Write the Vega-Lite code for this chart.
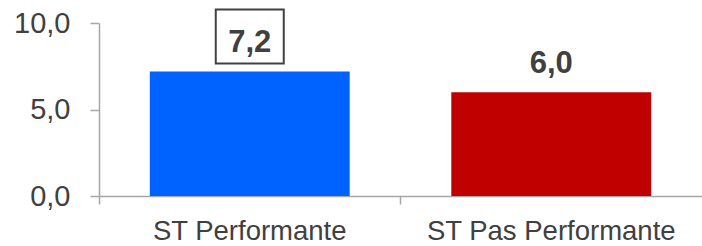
{
  "$schema": "https://vega.github.io/schema/vega-lite/v6.json",
  "width": 603,
  "height": 173,
  "autosize": {"type": "none"},
  "padding": {"left": 99, "top": 23, "right": 0, "bottom": 50},
  "background": "white",
  "config": {
    "view": {"stroke": null},
    "font": "Liberation Sans",
    "locale": {"number": {"decimal": ",", "thousands": ".", "grouping": [3], "currency": ["", " €"]}}
  },
  "data": {
    "values": [
      {"cat": "ST Performante", "value": 7.2},
      {"cat": "ST Pas Performante", "value": 6.0}
    ]
  },
  "encoding": {
    "x": {
      "field": "cat",
      "type": "nominal",
      "sort": null,
      "title": null,
      "scale": {"paddingInner": 0, "paddingOuter": 0},
      "axis": {
        "labelAngle": 0,
        "bandPosition": 0,
        "labelFontSize": 27.5,
        "labelLimit": 0,
        "labelColor": "#404040",
        "labelPadding": 13,
        "domainColor": "#a6a6a6",
        "tickColor": "#a6a6a6",
        "tickSize": 8,
        "domainWidth": 1.5,
        "tickWidth": 1.5,
        "grid": false
      }
    }
  },
  "layer": [
    {
      "mark": {"type": "bar", "width": {"band": 0.663}},
      "encoding": {
        "y": {
          "field": "value",
          "type": "quantitative",
          "title": null,
          "scale": {"domain": [0, 10], "nice": false},
          "axis": {
            "values": [0, 5, 10],
            "format": ".1f",
            "grid": false,
            "labelFontSize": 29,
            "labelColor": "#404040",
            "labelPadding": 20,
            "tickSize": 9,
            "domainColor": "#a6a6a6",
            "tickColor": "#a6a6a6",
            "domainWidth": 1.5,
            "tickWidth": 1.5
          }
        },
        "color": {
          "field": "cat",
          "type": "nominal",
          "sort": null,
          "scale": {"range": ["#0062FF", "#C00000"]},
          "legend": null
        }
      }
    },
    {
      "mark": {"type": "text", "fontWeight": "bold", "fontSize": 31, "color": "#404040", "baseline": "alphabetic", "dy": -19},
      "encoding": {
        "y": {"field": "value", "type": "quantitative"},
        "text": {"field": "value", "type": "quantitative", "format": ".1f"}
      }
    },
    {
      "transform": [{"filter": "datum.cat === 'ST Performante'"}],
      "mark": {
        "type": "point",
        "shape": "M-1,-0.794H1V0.794H-1Z",
        "size": 4624,
        "filled": false,
        "stroke": "#404040",
        "strokeWidth": 2,
        "opacity": 1,
        "yOffset": -35
      },
      "encoding": {
        "y": {"field": "value", "type": "quantitative"}
      }
    }
  ]
}
